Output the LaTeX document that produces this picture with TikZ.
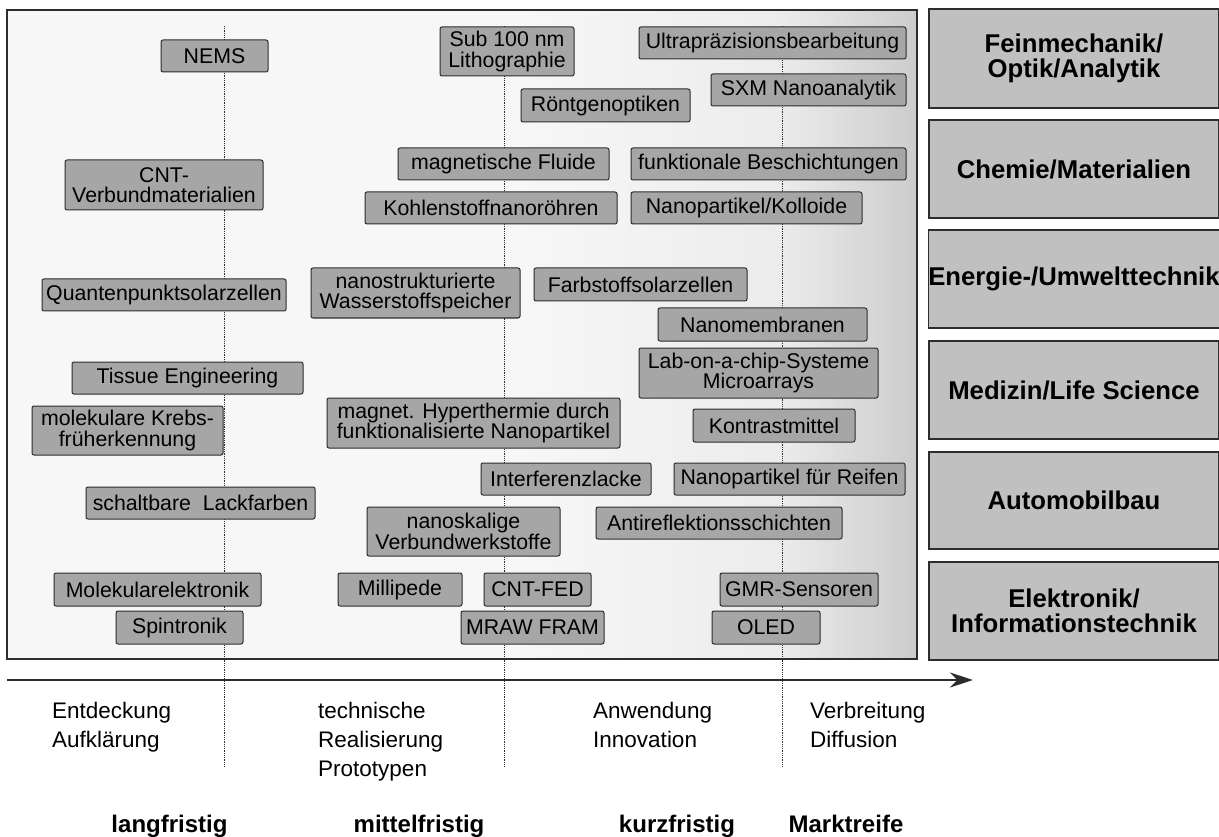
\documentclass[tikz,border=0pt]{standalone}
\usepackage{fontspec}
\setmainfont{Liberation Sans}
\usetikzlibrary{arrows.meta}
\definecolor{pleft}{RGB}{247,247,247}
\definecolor{pmid}{RGB}{236,236,236}
\definecolor{pright}{RGB}{204,204,204}
\definecolor{itemfill}{RGB}{166,166,166}
\definecolor{catfill}{RGB}{192,192,192}
\definecolor{edge}{RGB}{45,45,45}
\tikzset{
  itembox/.style={draw=edge, fill=itemfill, line width=1pt, rounded corners=2pt,
    inner sep=0pt, align=center, font=\fontsize{21.3}{20.5}\selectfont},
  catbox/.style={draw=edge, fill=catfill, line width=1.3pt, inner sep=0pt,
    minimum width=290pt, align=center, font=\fontsize{25.7}{24.5}\selectfont\bfseries},
  phasetxt/.style={anchor=north west, inner sep=0pt, align=left,
    font=\fontsize{22.5}{29}\selectfont},
  termtxt/.style={anchor=base, inner sep=0pt, font=\fontsize{24}{28}\selectfont\bfseries},
  guide/.style={draw=edge, densely dotted, line width=0.8pt},
}
\begin{document}
\begin{tikzpicture}[x=1pt,y=-1pt]
\useasboundingbox (0,0) rectangle (1219,837);
% panel with gradient
\fill[pleft] (7,10) rectangle (917,659);
\fill[left color=pleft, right color=pmid] (520,10) rectangle (780,659);
\fill[left color=pmid, right color=pright] (780,10) rectangle (917,659);
\draw[edge, line width=1.5pt] (7,10) rectangle (917,659);
% guide lines
\coordinate (g1t) at (224,26); \coordinate (g1b) at (224,767);
\coordinate (g2t) at (504,26); \coordinate (g2b) at (504,767);
\coordinate (g3t) at (782,26); \coordinate (g3b) at (782,767);
\draw[guide] (g1t) -- (g1b);
\draw[guide] (g2t) -- (g2b);
\draw[guide] (g3t) -- (g3b);
% items
\node[itembox, minimum width=107pt, minimum height=32pt] (nems) at (214.5,56) {NEMS};
\node[itembox, minimum width=198pt, minimum height=50pt] (cntv) at (164,185) {CNT-\\Verbundmaterialien};
\node[itembox, minimum width=134pt, minimum height=49pt] (sub) at (507,51.5) {Sub 100 nm\\Lithographie};
\node[itembox, minimum width=267pt, minimum height=32pt] (ultra) at (772.5,43) {Ultrapräzisionsbearbeitung};
\node[itembox, minimum width=195pt, minimum height=32pt] (sxm) at (808.5,90) {SXM Nanoanalytik};
\node[itembox, minimum width=169pt, minimum height=33pt] (roent) at (605.5,105.5) {Röntgenoptiken};
\node[itembox, minimum width=211pt, minimum height=32pt] (magfl) at (503.5,164) {magnetische Fluide};
\node[itembox, minimum width=275pt, minimum height=32pt] (funk) at (768.5,164) {funktionale Beschichtungen};
\node[itembox, minimum width=252pt, minimum height=32pt] (kohl) at (491,208) {Kohlenstoffnanoröhren};
\node[itembox, minimum width=231pt, minimum height=32pt] (nanok) at (746.5,208) {Nanopartikel/Kolloide};
\node[itembox, minimum width=244pt, minimum height=32pt] (quant) at (164,295) {Quantenpunktsolarzellen};
\node[itembox, minimum width=209pt, minimum height=50pt] (wass) at (415.5,293) {nanostrukturierte\\Wasserstoffspeicher};
\node[itembox, minimum width=213pt, minimum height=33pt] (farb) at (640.5,284.5) {Farbstoffsolarzellen};
\node[itembox, minimum width=209pt, minimum height=33pt] (memb) at (762.5,324.5) {Nanomembranen};
\node[itembox, minimum width=239pt, minimum height=50pt] (lab) at (758.5,373) {Lab-on-a-chip-Systeme\\Microarrays};
\node[itembox, minimum width=231pt, minimum height=32pt] (tiss) at (187.5,378) {Tissue Engineering};
\node[itembox, minimum width=191pt, minimum height=49pt] (krebs) at (127.5,430.5) {molekulare Krebs-\\früherkennung};
\node[itembox, minimum width=293pt, minimum height=50pt] (hyper) at (473.5,423) {magnet. Hyperthermie durch\\funktionalisierte Nanopartikel};
\node[itembox, minimum width=162pt, minimum height=33pt] (kontr) at (774,425.5) {Kontrastmittel};
\node[itembox, minimum width=170pt, minimum height=32pt] (interf) at (566,479) {Interferenzlacke};
\node[itembox, minimum width=231pt, minimum height=32pt] (reif) at (789.5,479) {Nanopartikel für Reifen};
\node[itembox, minimum width=229pt, minimum height=32pt] (lack) at (200.5,503) {schaltbare~ Lackfarben};
\node[itembox, minimum width=193pt, minimum height=49pt] (verb) at (463.5,531.5) {nanoskalige\\Verbundwerkstoffe};
\node[itembox, minimum width=246pt, minimum height=32pt] (anti) at (719,523) {Antireflektionsschichten};
\node[itembox, minimum width=207pt, minimum height=33pt] (molel) at (157.5,589.5) {Molekularelektronik};
\node[itembox, minimum width=124pt, minimum height=33pt] (milli) at (400,589.5) {Millipede};
\node[itembox, minimum width=107pt, minimum height=33pt] (cntfed) at (537.5,589.5) {CNT-FED};
\node[itembox, minimum width=158pt, minimum height=33pt] (gmr) at (799,589.5) {GMR-Sensoren};
\node[itembox, minimum width=127pt, minimum height=33pt] (spin) at (179.5,627.5) {Spintronik};
\node[itembox, minimum width=143pt, minimum height=33pt] (mraw) at (532.5,627.5) {MRAW FRAM};
\node[itembox, minimum width=108pt, minimum height=33pt] (oled) at (766,627.5) {OLED};
% categories
\node[catbox, minimum height=99pt] (c1) at (1074,58.5) {Feinmechanik/\\Optik/Analytik};
\node[catbox, minimum height=98pt] (c2) at (1074,169) {Chemie/Materialien};
\node[catbox, minimum height=98pt] (c3) at (1074,279) {Energie-/Umwelttechnik};
\node[catbox, minimum height=98pt] (c4) at (1074,390) {Medizin/Life Science};
\node[catbox, minimum height=97pt] (c5) at (1074,500.5) {Automobilbau};
\node[catbox, minimum height=98pt] (c6) at (1074,611) {Elektronik/\\Informationstechnik};
% time axis
\coordinate (axs) at (7,680);
\coordinate (axe) at (973,680);
\draw[edge, line width=2pt, -{Stealth[length=23pt, width=15pt]}] (axs) -- (axe);
% phases
\node[phasetxt] (p1) at (52,701.5) {Entdeckung\\Aufklärung};
\node[phasetxt] (p2) at (318,701.5) {technische\\Realisierung\\Prototypen};
\node[phasetxt] (p3) at (593,701.5) {Anwendung\\Innovation};
\node[phasetxt] (p4) at (810,701.5) {Verbreitung\\Diffusion};
% terms
\node[termtxt] (t1) at (169.5,832) {langfristig};
\node[termtxt] (t2) at (419,832) {mittelfristig};
\node[termtxt] (t3) at (677,832) {kurzfristig};
\node[termtxt] (t4) at (846,832) {Marktreife};
\end{tikzpicture}
\end{document}
